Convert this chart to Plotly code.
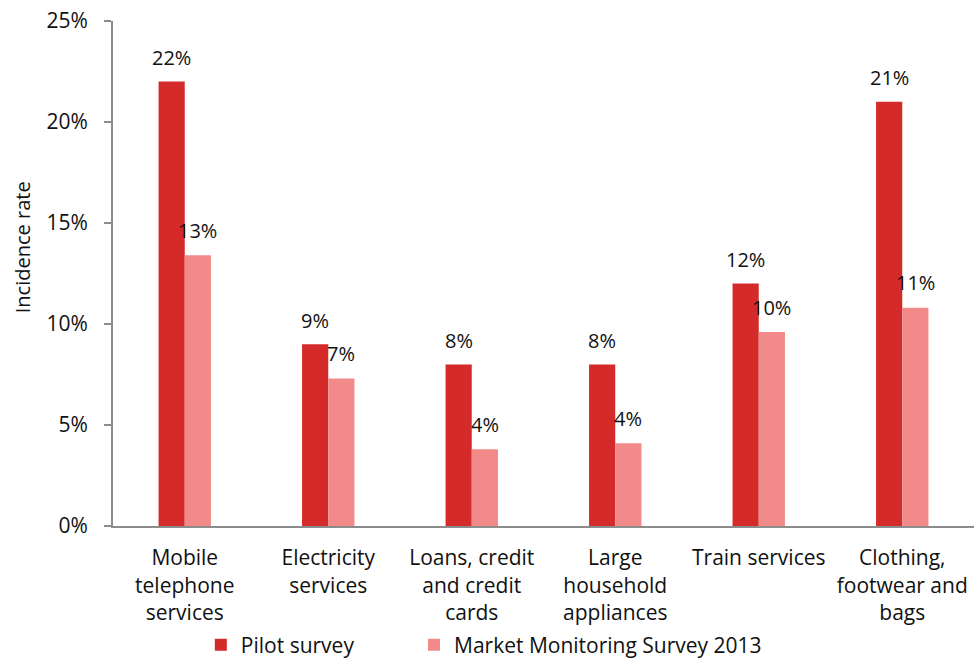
import plotly.graph_objects as go

categories = ["Mobile<br>telephone<br>services", "Electricity<br>services",
              "Loans, credit<br>and credit<br>cards", "Large<br>household<br>appliances",
              "Train services", "Clothing,<br>footwear and<br>bags"]
pilot = [22.0, 9.0, 8.0, 8.0, 12.0, 21.0]
mms = [13.4, 7.3, 3.8, 4.1, 9.6, 10.8]
pilot_labels = ["22%", "9%", "8%", "8%", "12%", "21%"]
mms_labels = ["13%", "7%", "4%", "4%", "10%", "11%"]
tick_vals = [0, 5, 10, 15, 20, 25]
tick_text = ["0%", "5%", "10%", "15%", "20%", "25%"]

FONT = "Open Sans"
fig = go.Figure()
fig.add_trace(go.Bar(x=categories, y=pilot, name="Pilot survey", legend="legend",
                     marker=dict(color="#d42a2a", line=dict(width=0))))
fig.add_trace(go.Bar(x=categories, y=mms, name="Market Monitoring Survey 2013", legend="legend2",
                     marker=dict(color="#f18a88", line=dict(width=0))))

for i, c in enumerate(categories):
    fig.add_annotation(x=c, y=pilot[i], text=pilot_labels[i], showarrow=False,
                       xshift=-13, yshift=24, font=dict(size=20, color="#111", family=FONT))
    fig.add_annotation(x=c, y=mms[i], text=mms_labels[i], showarrow=False,
                       xshift=13, yshift=25, font=dict(size=20, color="#111", family=FONT))

fig.add_annotation(xref="paper", yref="paper", x=-0.1057, y=0.552, text="Incidence rate",
                   xanchor="center", yanchor="middle",
                   textangle=-90, showarrow=False, font=dict(size=20, color="#111", family=FONT))

legend_common = dict(orientation="h", xanchor="left", y=-0.236, yanchor="middle",
                     font=dict(size=21, family=FONT, color="#111"), bgcolor="rgba(0,0,0,0)")

fig.update_layout(
    width=974, height=660,
    margin=dict(l=113, r=0, t=21, b=134, autoexpand=False),
    plot_bgcolor="white", paper_bgcolor="white",
    barmode="group", bargap=0.635, bargroupgap=0,
    font=dict(family=FONT, size=21, color="#111"),
    showlegend=True,
    legend=dict(x=0.102, **legend_common),
    legend2=dict(x=0.3496, **legend_common),
    xaxis=dict(showline=True, linecolor="#8c8c8c", linewidth=2, ticks="",
               tickfont=dict(size=21, family=FONT), showgrid=False, ticklabelstandoff=12),
    yaxis=dict(range=[0, 25], tickvals=tick_vals, ticktext=tick_text,
               showline=True, linecolor="#8c8c8c", linewidth=2, ticks="outside",
               ticklen=7, tickcolor="#8c8c8c", tickwidth=2, showgrid=False, zeroline=False,
               tickfont=dict(size=21, family=FONT), ticklabelstandoff=12),
)
fig.write_html("out.html")
